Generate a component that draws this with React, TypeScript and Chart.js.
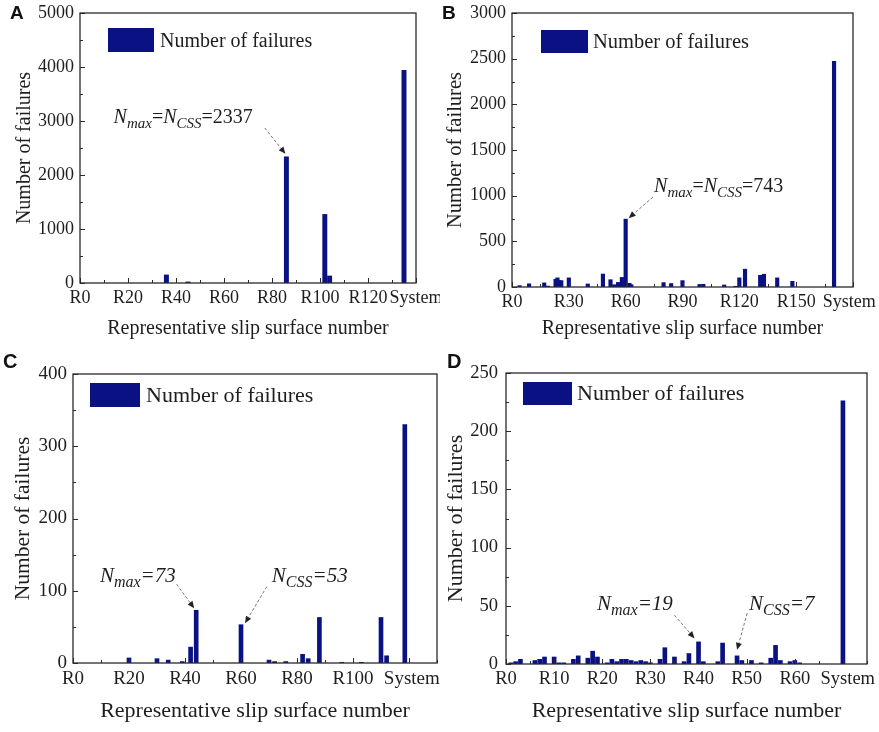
import React, { useEffect, useRef } from "react";
import { Chart, registerables } from "chart.js";

Chart.register(...registerables);

// ---- values ----

// Panel A
const aSurfaces = [36, 45, 86, 102, 104];
const aFailures = [150, 20, 2337, 1270, 130];
const aSystemAt = 135;
const aSystemFailures = 3940;
const aTickValues = [0, 20, 40, 60, 80, 100, 120, 140];
const aTickLabels = ["R0", "R20", "R40", "R60", "R80", "R100", "R120", "System"];

// Panel B
const bSurfaces = [
  4, 9, 17, 19, 23, 24, 25, 26, 30, 40, 48, 52, 54, 56, 58, 60, 62, 63, 80, 84,
  90, 99, 101, 112, 118, 120, 123, 131, 133, 140, 148,
];
const bFailures = [
  15, 35, 45, 10, 85, 100, 70, 70, 100, 33, 142, 80, 25, 50, 105, 743, 40, 25,
  48, 38, 70, 28, 30, 22, 8, 100, 195, 128, 140, 100, 62,
];
const bSystemAt = 170;
const bSystemFailures = 2470;
const bTickValues = [0, 30, 60, 90, 120, 150, 178];
const bTickLabels = ["R0", "R30", "R60", "R90", "R120", "R150", "System"];

// Panel C
const cSurfaces = [20, 30, 34, 39, 42, 44, 60, 70, 72, 76, 82, 84, 88, 96, 103, 110, 112];
const cFailures = [7, 6, 4, 2, 22, 73, 53, 4, 2, 2, 12, 6, 63, 1, 1, 63, 10];
const cSystemAt = 118.5;
const cSystemFailures = 330;
const cTickValues = [0, 20, 40, 60, 80, 100, 121];
const cTickLabels = ["R0", "R20", "R40", "R60", "R80", "R100", "System"];

// Panel D
const dSurfaces = [
  1, 2, 3, 6, 7, 8, 10, 11, 12, 14, 15, 17, 18, 19, 21, 22, 23, 24, 25, 26, 27,
  28, 29, 30, 32, 33, 35, 37, 38, 40, 41, 44, 45, 48, 49, 51, 53, 55, 56, 57,
  59, 60, 61,
];
const dFailures = [
  1, 2, 4, 3, 4, 6, 6, 1, 1, 4, 7, 5, 11, 6, 1, 4, 2, 4, 4, 3, 2, 3, 2, 1, 4,
  14, 6, 2, 9, 19, 2, 2, 18, 7, 3, 3, 1, 5, 16, 3, 2, 3, 1,
];
const dSystemAt = 70;
const dSystemFailures = 226;
const dTickValues = [0, 10, 20, 30, 40, 50, 60, 71];
const dTickLabels = ["R0", "R10", "R20", "R30", "R40", "R50", "R60", "System"];

// ---- styling ----
const SERIF = '"Liberation Serif", "Times New Roman", serif';
const SANS = '"Liberation Sans", Arial, sans-serif';
const NAVY = "#0a1283";
const TEXT = "#1e1e1e";
const AXIS = "#2a2a2a";

type Piece = { text: string; italic?: boolean; sub?: boolean };
type Note = {
  pieces: Piece[];
  at: [number, number];
  from: [number, number];
  target: number;
  tip: [number, number];
};

type PanelSpec = {
  letter: string;
  surfaces: number[];
  failures: number[];
  systemAt: number;
  systemFailures: number;
  tickValues: number[];
  tickLabels: string[];
  xMax: number;
  xMajor: number;
  xMinor: number;
  yMax: number;
  yMajor: number;
  yMinor: number;
  box: { left: number; top: number; width: number; height: number };
  padTop: number;
  padRight: number;
  yAxisWidth: number;
  xAxisHeight: number;
  barWidth: number;
  tickSize: number;
  xTickPad: number;
  yTickPad: number;
  xTitleSize: number;
  xTitlePad: number;
  yTitleSize: number;
  yTitlePad: number;
  legend: { dx: number; dy: number; w: number; h: number; gap: number; size: number };
  noteSize: number;
  noteSub: number;
  notes: Note[];
  letterPos: { left: number; top: number; size: number };
};

const maxEq = (value: string, italicTail: boolean): Piece[] => [
  { text: "N", italic: true },
  { text: "max", italic: true, sub: true },
  { text: value, italic: italicTail },
];

const panels: PanelSpec[] = [
  {
    letter: "A",
    surfaces: aSurfaces,
    failures: aFailures,
    systemAt: aSystemAt,
    systemFailures: aSystemFailures,
    tickValues: aTickValues,
    tickLabels: aTickLabels,
    xMax: 140, xMajor: 20, xMinor: 10,
    yMax: 5000, yMajor: 1000, yMinor: 500,
    box: { left: 0, top: 0, width: 440, height: 360 },
    padTop: 13, padRight: 24, yAxisWidth: 80, xAxisHeight: 77,
    barWidth: 4.3, tickSize: 18, xTickPad: 4, yTickPad: 6,
    xTitleSize: 20, xTitlePad: 19, yTitleSize: 20, yTitlePad: 13,
    legend: { dx: 28, dy: 15, w: 46, h: 24, gap: 6, size: 20 },
    noteSize: 20, noteSub: 15,
    notes: [
      {
        pieces: [
          { text: "N", italic: true },
          { text: "max", italic: true, sub: true },
          { text: "=" },
          { text: "N", italic: true },
          { text: "CSS", italic: true, sub: true },
          { text: "=2337" },
        ],
        at: [14, 2960],
        from: [77, 2870],
        target: 86,
        tip: [-1, -3],
      },
    ],
    letterPos: { left: 10, top: 2.5, size: 19 },
  },
  {
    letter: "B",
    surfaces: bSurfaces,
    failures: bFailures,
    systemAt: bSystemAt,
    systemFailures: bSystemFailures,
    tickValues: bTickValues,
    tickLabels: bTickLabels,
    xMax: 180, xMajor: 30, xMinor: 15,
    yMax: 3000, yMajor: 500, yMinor: 250,
    box: { left: 440, top: 0, width: 439, height: 360 },
    padTop: 13, padRight: 26, yAxisWidth: 72, xAxisHeight: 73,
    barWidth: 3.5, tickSize: 18, xTickPad: 4, yTickPad: 6,
    xTitleSize: 20, xTitlePad: 19, yTitleSize: 20.5, yTitlePad: 3.5,
    legend: { dx: 29, dy: 17, w: 47, h: 23, gap: 5, size: 20.5 },
    noteSize: 20, noteSub: 15,
    notes: [
      {
        pieces: [
          { text: "N", italic: true },
          { text: "max", italic: true, sub: true },
          { text: "=" },
          { text: "N", italic: true },
          { text: "CSS", italic: true, sub: true },
          { text: "=743" },
        ],
        at: [75, 1043],
        from: [74.4, 985],
        target: 60,
        tip: [3, -1],
      },
    ],
    letterPos: { left: 442, top: 2.5, size: 19 },
  },
  {
    letter: "C",
    surfaces: cSurfaces,
    failures: cFailures,
    systemAt: cSystemAt,
    systemFailures: cSystemFailures,
    tickValues: cTickValues,
    tickLabels: cTickLabels,
    xMax: 130, xMajor: 20, xMinor: 10,
    yMax: 400, yMajor: 100, yMinor: 50,
    box: { left: 0, top: 360, width: 440, height: 372 },
    padTop: 14, padRight: 3, yAxisWidth: 73, xAxisHeight: 69,
    barWidth: 4, tickSize: 19, xTickPad: 5, yTickPad: 6,
    xTitleSize: 22, xTitlePad: 8, yTitleSize: 21.5, yTitlePad: 10.5,
    legend: { dx: 17, dy: 9, w: 50, h: 24, gap: 6, size: 22 },
    noteSize: 21, noteSub: 16,
    notes: [
      {
        pieces: maxEq("=73", true),
        at: [9.6, 112.5],
        from: [37, 109],
        target: 44,
        tip: [-2, -2],
      },
      {
        pieces: [
          { text: "N", italic: true },
          { text: "CSS", italic: true, sub: true },
          { text: "=53", italic: true },
        ],
        at: [71, 112.5],
        from: [69.2, 105.6],
        target: 60,
        tip: [4, -1.5],
      },
    ],
    letterPos: { left: 3, top: 350.5, size: 20 },
  },
  {
    letter: "D",
    surfaces: dSurfaces,
    failures: dFailures,
    systemAt: dSystemAt,
    systemFailures: dSystemFailures,
    tickValues: dTickValues,
    tickLabels: dTickLabels,
    xMax: 75, xMajor: 10, xMinor: 5,
    yMax: 250, yMajor: 50, yMinor: 25,
    box: { left: 440, top: 360, width: 439, height: 372 },
    padTop: 13, padRight: 12, yAxisWidth: 66, xAxisHeight: 68,
    barWidth: 4, tickSize: 18.5, xTickPad: 4, yTickPad: 8,
    xTitleSize: 22, xTitlePad: 8, yTitleSize: 22, yTitlePad: 3.5,
    legend: { dx: 17, dy: 9, w: 49, h: 23, gap: 5, size: 22 },
    noteSize: 21, noteSub: 16,
    notes: [
      {
        pieces: maxEq("=19", true),
        at: [18.9, 46.4],
        from: [35, 42],
        target: 40,
        tip: [-4, -3.5],
      },
      {
        pieces: [
          { text: "N", italic: true },
          { text: "CSS", italic: true, sub: true },
          { text: "=7", italic: true },
        ],
        at: [50.5, 46.4],
        from: [50.1, 43.6],
        target: 48,
        tip: [0, -6],
      },
    ],
    letterPos: { left: 447, top: 350.5, size: 20 },
  },
];

// frame, inward ticks, legend and the N annotations (Origin style)
const makeOverlay = (spec: PanelSpec) => ({
  id: "originOverlay",
  afterDraw(chart: any) {
    const { ctx, chartArea: a, scales } = chart;
    const xs = scales.x;
    const ys = scales.y;
    ctx.save();

    const isMajor = (v: number, step: number) =>
      Math.abs(v / step - Math.round(v / step)) < 1e-6;

    ctx.strokeStyle = AXIS;
    ctx.lineWidth = 1;
    ctx.beginPath();
    for (let v = 0; v <= spec.xMax + 1e-6; v += spec.xMinor) {
      const px = Math.round(xs.getPixelForValue(v)) + 0.5;
      const len = isMajor(v, spec.xMajor) ? 5 : 3;
      ctx.moveTo(px, a.bottom);
      ctx.lineTo(px, a.bottom - len);
    }
    for (let v = 0; v <= spec.yMax + 1e-6; v += spec.yMinor) {
      const py = Math.round(ys.getPixelForValue(v)) + 0.5;
      const len = isMajor(v, spec.yMajor) ? 5 : 3;
      ctx.moveTo(a.left, py);
      ctx.lineTo(a.left + len, py);
    }
    ctx.stroke();

    ctx.lineWidth = 1.3;
    ctx.strokeRect(a.left, a.top, a.right - a.left, a.bottom - a.top);

    // legend
    const lg = spec.legend;
    const bx = a.left + lg.dx;
    const by = a.top + lg.dy;
    ctx.fillStyle = NAVY;
    ctx.fillRect(bx, by, lg.w, lg.h);
    ctx.fillStyle = TEXT;
    ctx.font = `${lg.size}px ${SERIF}`;
    ctx.textBaseline = "alphabetic";
    ctx.textAlign = "left";
    ctx.fillText("Number of failures", bx + lg.w + lg.gap, by + lg.h * 0.78);

    // annotations
    for (const n of spec.notes) {
      let cx = xs.getPixelForValue(n.at[0]);
      const base = ys.getPixelForValue(n.at[1]);
      ctx.fillStyle = TEXT;
      for (const p of n.pieces) {
        const size = p.sub ? spec.noteSub : spec.noteSize;
        ctx.font = `${p.italic ? "italic " : ""}${size}px ${SERIF}`;
        ctx.fillText(p.text, cx, base + (p.sub ? 5 : 0));
        cx += ctx.measureText(p.text).width;
      }

      const value = spec.failures[spec.surfaces.indexOf(n.target)];
      const tx = xs.getPixelForValue(n.target) + n.tip[0];
      const ty = ys.getPixelForValue(value) + n.tip[1];
      const fx = xs.getPixelForValue(n.from[0]);
      const fy = ys.getPixelForValue(n.from[1]);
      const ang = Math.atan2(ty - fy, tx - fx);
      const head = 7;
      ctx.strokeStyle = "#777";
      ctx.lineWidth = 1;
      ctx.setLineDash([3, 2]);
      ctx.beginPath();
      ctx.moveTo(fx, fy);
      ctx.lineTo(tx - head * Math.cos(ang), ty - head * Math.sin(ang));
      ctx.stroke();
      ctx.setLineDash([]);
      ctx.fillStyle = "#222";
      ctx.beginPath();
      ctx.moveTo(tx, ty);
      ctx.lineTo(
        tx - head * Math.cos(ang) + 3 * Math.sin(ang),
        ty - head * Math.sin(ang) - 3 * Math.cos(ang),
      );
      ctx.lineTo(
        tx - head * Math.cos(ang) - 3 * Math.sin(ang),
        ty - head * Math.sin(ang) + 3 * Math.cos(ang),
      );
      ctx.closePath();
      ctx.fill();
    }
    ctx.restore();
  },
});

const FailurePanel: React.FC<{ spec: PanelSpec }> = ({ spec }) => {
  const canvasRef = useRef<HTMLCanvasElement>(null);

  useEffect(() => {
    if (!canvasRef.current) return;
    const points = spec.surfaces.map((s, i) => ({ x: s, y: spec.failures[i] }));
    points.push({ x: spec.systemAt, y: spec.systemFailures });

    const chart = new Chart(canvasRef.current, {
      type: "bar",
      data: {
        datasets: [
          {
            label: "Number of failures",
            data: points,
            backgroundColor: NAVY,
            borderWidth: 0,
            barThickness: spec.barWidth,
          },
        ],
      },
      options: {
        responsive: false,
        animation: false,
        events: [],
        layout: {
          padding: { top: spec.padTop, right: spec.padRight, bottom: 0, left: 0 },
        },
        plugins: {
          legend: { display: false },
          tooltip: { enabled: false },
        },
        scales: {
          x: {
            type: "linear",
            min: 0,
            max: spec.xMax,
            offset: false,
            grid: { display: false, drawTicks: false, tickLength: 0 },
            border: { display: false },
            afterBuildTicks: (scale: any) => {
              scale.ticks = spec.tickValues.map((v) => ({ value: v }));
            },
            afterFit: (scale: any) => {
              scale.height = spec.xAxisHeight;
              scale.paddingLeft = 0;
              scale.paddingRight = 0;
            },
            ticks: {
              autoSkip: false,
              maxRotation: 0,
              minRotation: 0,
              padding: spec.xTickPad,
              color: TEXT,
              font: { family: SERIF, size: spec.tickSize },
              callback: (_v: any, i: number) => spec.tickLabels[i] ?? "",
            },
            title: {
              display: true,
              text: "Representative slip surface number",
              color: TEXT,
              font: { family: SERIF, size: spec.xTitleSize },
              padding: { top: 0, bottom: spec.xTitlePad },
            },
          },
          y: {
            type: "linear",
            min: 0,
            max: spec.yMax,
            grid: { display: false, drawTicks: false, tickLength: 0 },
            border: { display: false },
            afterFit: (scale: any) => {
              scale.width = spec.yAxisWidth;
              scale.paddingTop = 0;
              scale.paddingBottom = 0;
            },
            ticks: {
              stepSize: spec.yMajor,
              padding: spec.yTickPad,
              color: TEXT,
              font: { family: SERIF, size: spec.tickSize },
              callback: (v: any) => String(v),
            },
            title: {
              display: true,
              text: "Number of failures",
              color: TEXT,
              font: { family: SERIF, size: spec.yTitleSize },
              padding: { top: spec.yTitlePad, bottom: 0 },
            },
          },
        },
      } as any,
      plugins: [makeOverlay(spec)],
    });

    return () => chart.destroy();
  }, [spec]);

  return (
    <>
      <canvas
        ref={canvasRef}
        width={spec.box.width}
        height={spec.box.height}
        style={{
          position: "absolute",
          left: spec.box.left,
          top: spec.box.top,
          width: spec.box.width,
          height: spec.box.height,
        }}
      />
      <div
        style={{
          position: "absolute",
          left: spec.letterPos.left,
          top: spec.letterPos.top,
          fontFamily: SANS,
          fontWeight: 700,
          fontSize: `${spec.letterPos.size}px`,
          lineHeight: 1,
          color: "#111",
        }}
      >
        {spec.letter}
      </div>
    </>
  );
};

export default function App() {
  return (
    <div
      style={{
        position: "absolute",
        left: 0,
        top: 0,
        width: 879,
        height: 732,
        background: "#fff",
        overflow: "hidden",
      }}
    >
      {panels.map((p) => (
        <FailurePanel key={p.letter} spec={p} />
      ))}
    </div>
  );
}
